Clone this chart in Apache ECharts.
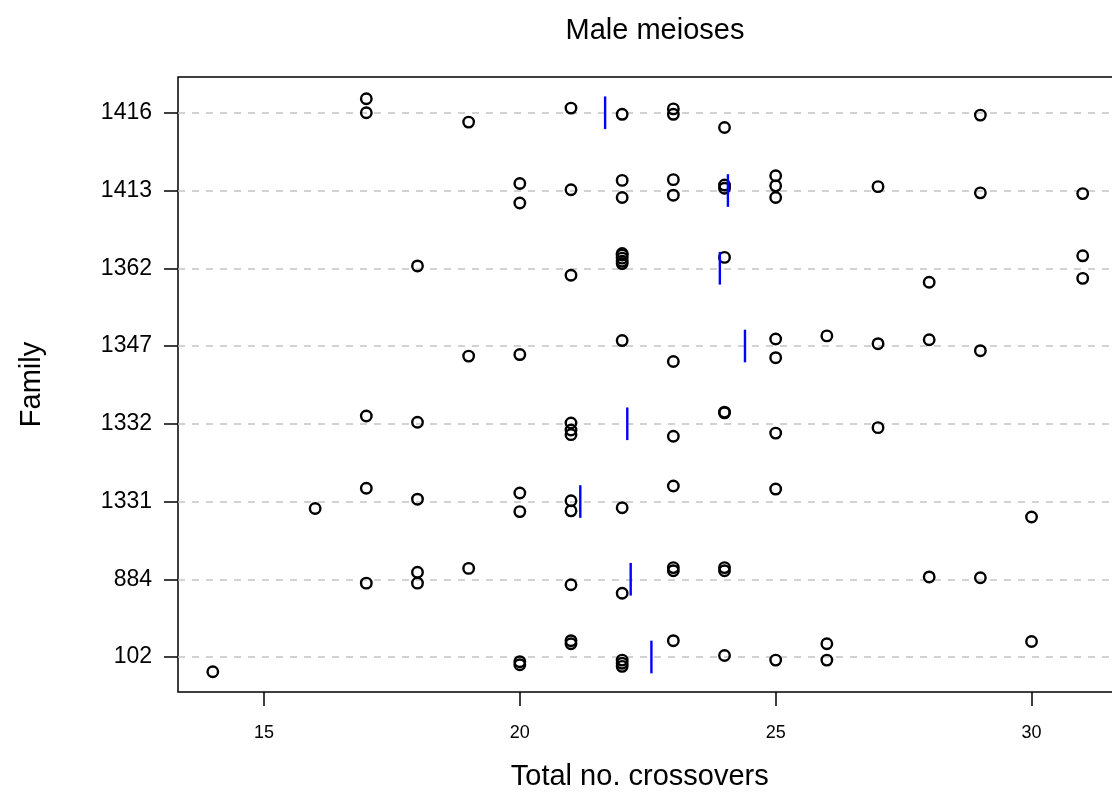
<!DOCTYPE html>
<html>
<head>
<meta charset="utf-8">
<script src="https://cdn.jsdelivr.net/npm/echarts@6/dist/echarts.min.js"></script>
<style>
html,body{margin:0;padding:0;background:#fff;}
#chart{width:1112px;height:793px;}
</style>
</head>
<body>
<div id="chart"></div>
<script>
// Families (bottom to top)
const families = ["102", "884", "1331", "1332", "1347", "1362", "1413", "1416"];

// Total crossovers per meiosis, by family
const x102  = [14,20,20,21,21,22,22,22,23,24,25,26,26,30];
const x884  = [17,18,18,19,21,22,23,23,24,24,28,29];
const x1331 = [16,17,18,20,20,21,21,22,23,25,30];
const x1332 = [17,18,21,21,21,23,24,24,25,27];
const x1347 = [19,20,22,23,25,25,26,27,28,29];
const x1362 = [18,21,22,22,22,22,22,24,28,31,31];
const x1413 = [20,20,21,22,22,23,23,24,24,25,25,25,27,29,31];
const x1416 = [17,17,19,21,22,23,23,24,29];

// Vertical jitter (in family-level units)
const j102  = [-0.19,-0.06,-0.10,0.21,0.17,-0.04,-0.08,-0.12,0.21,0.02,-0.04,0.17,-0.04,0.20];
const j884  = [-0.05,0.09,-0.05,0.14,-0.07,-0.18,0.15,0.11,0.15,0.11,0.03,0.02];
const j1331 = [-0.09,0.17,0.03,0.11,-0.13,0.01,-0.12,-0.08,0.20,0.16,-0.20];
const j1332 = [0.10,0.02,0.01,-0.08,-0.14,-0.16,0.15,0.14,-0.12,-0.05];
const j1347 = [-0.13,-0.11,0.07,-0.20,0.09,-0.15,0.13,0.03,0.08,-0.06];
const j1362 = [0.03,-0.09,0.19,0.17,0.13,0.09,0.06,0.14,-0.18,0.16,-0.13];
const j1413 = [0.09,-0.16,0.01,0.13,-0.09,0.14,-0.06,0.07,0.03,0.19,0.06,-0.09,0.05,-0.03,-0.04];
const j1416 = [0.18,0.00,-0.12,0.06,-0.02,0.05,-0.02,-0.19,-0.03];

const xTicks = [15, 20, 25, 30];

const xs = [x102, x884, x1331, x1332, x1347, x1362, x1413, x1416];
const js = [j102, j884, j1331, j1332, j1347, j1362, j1413, j1416];

const pts = [];
const means = [];
xs.forEach((arr, i) => {
  const lv = i + 1;
  arr.forEach((v, k) => pts.push([v, lv + js[i][k]]));
  means.push([arr.reduce((a, b) => a + b, 0) / arr.length, lv]);
});
const levels = families.map((f, i) => i + 1);

const FONT = 'Liberation Sans, Arial, sans-serif';
const chart = echarts.init(document.getElementById('chart'), null, {renderer: 'canvas'});
chart.setOption({
  animation: false,
  backgroundColor: '#fff',
  title: {
    text: 'Male meioses',
    left: 650, top: 11, textAlign: 'center',
    textStyle: {fontFamily: FONT, fontWeight: 'normal', fontSize: 29, color: '#000'}
  },
  grid: {
    left: 178, top: 77, width: 939.5, height: 615,
    outerBoundsMode: 'none', containLabel: false,
    show: true, borderColor: '#000', borderWidth: 1.5, backgroundColor: 'transparent'
  },
  xAxis: {
    type: 'value', min: 13.32, max: 31.68,
    name: 'Total no. crossovers', nameLocation: 'middle', nameGap: 70,
    nameTextStyle: {fontFamily: FONT, fontSize: 29, color: '#000', padding: [0, 16, 0, 0]},
    axisLine: {show: false},
    axisTick: {show: true, inside: false, length: 14, customValues: xTicks, lineStyle: {color: '#000', width: 1.5}},
    axisLabel: {show: true, customValues: xTicks, margin: 32, fontSize: 18, color: '#000', fontFamily: FONT},
    splitLine: {show: false}
  },
  yAxis: {
    type: 'value', min: 0.55, max: 8.46,
    name: 'Family', nameLocation: 'middle', nameGap: 132, nameRotate: 90,
    nameTextStyle: {fontFamily: FONT, fontSize: 29, color: '#000'},
    axisLine: {show: false},
    axisTick: {show: true, inside: false, length: 14, customValues: levels, lineStyle: {color: '#000', width: 1.5}},
    axisLabel: {show: true, customValues: levels, margin: 26, fontSize: 23, color: '#000', fontFamily: FONT,
      formatter: v => families[Math.round(v) - 1]},
    splitLine: {show: false}
  },
  series: [
    {
      type: 'scatter',
      data: pts,
      symbol: 'circle',
      symbolSize: 10.5,
      itemStyle: {color: 'rgba(0,0,0,0)', borderColor: '#000', borderWidth: 2.4, opacity: 1},
      silent: true,
      z: 3,
      markLine: {
        silent: true,
        symbol: ['none', 'none'],
        label: {show: false},
        lineStyle: {color: '#c4c4c4', width: 1.5, type: [7, 7]},
        data: levels.map(v => ({yAxis: v})),
        z: 1
      }
    },
    {
      type: 'custom',
      data: means,
      silent: true,
      z: 4,
      renderItem: (params, api) => {
        const m = api.value(0), lv = api.value(1);
        const p1 = api.coord([m, lv - 0.21]);
        const p2 = api.coord([m, lv + 0.21]);
        return {
          type: 'line',
          shape: {x1: p1[0], y1: p1[1], x2: p2[0], y2: p2[1]},
          style: {stroke: '#0000FF', lineWidth: 2.4}
        };
      }
    }
  ]
});
</script>
</body>
</html>
